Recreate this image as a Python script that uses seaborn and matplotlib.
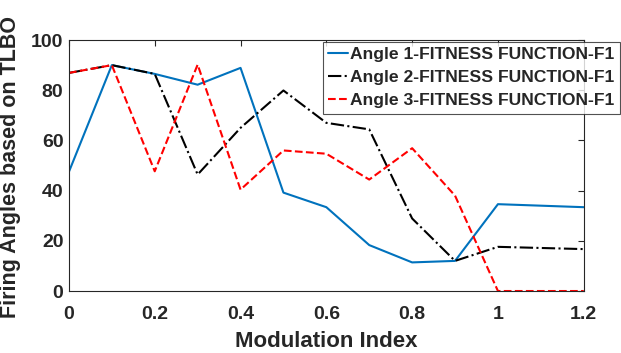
import numpy as np
import pandas as pd
import matplotlib
matplotlib.use("Agg")
import matplotlib.pyplot as plt
import seaborn as sns

mod_index = [0.0, 0.1, 0.2, 0.3, 0.4, 0.5, 0.6, 0.7, 0.8, 0.9, 1.0, 1.2]
angle1 = [47.5, 90.0, 86.5, 82.2, 88.9, 39.2, 33.4, 18.3, 11.4, 12.0, 34.6, 33.4]
angle2 = [86.9, 90.0, 86.5, 46.4, 65.0, 79.9, 67.0, 64.4, 28.9, 12.0, 17.6, 16.7]
angle3 = [86.9, 90.0, 47.7, 90.2, 40.4, 56.0, 54.7, 44.4, 56.9, 38.0, 0.0, 0.0]
labels = ["Angle 1-FITNESS FUNCTION-F1", "Angle 2-FITNESS FUNCTION-F1",
          "Angle 3-FITNESS FUNCTION-F1"]
xticks = [0, 0.2, 0.4, 0.6, 0.8, 1, 1.2]
xticklabels = ["0", "0.2", "0.4", "0.6", "0.8", "1", "1.2"]
yticks = [0, 20, 40, 60, 80, 100]

df = pd.DataFrame({
    "x": mod_index * 3,
    "y": angle1 + angle2 + angle3,
    "series": [labels[0]] * len(mod_index) + [labels[1]] * len(mod_index) + [labels[2]] * len(mod_index),
})

sns.set_style("white")
plt.rcParams['font.family'] = ['Liberation Sans', 'DejaVu Sans']
plt.rcParams['font.weight'] = 'bold'

fig = plt.figure(figsize=(6.21, 3.53), dpi=100)
ax = fig.add_axes([0.111, 0.1756, 0.829, 0.711])

palette = {labels[0]: "#0072BD", labels[1]: "black", labels[2]: "#FF0000"}
sns.lineplot(data=df, x="x", y="y", hue="series", palette=palette, ax=ax,
             linewidth=1.5, legend=False, sort=False, estimator=None)
styles = ["-", "-.", "--"]
for line, ls in zip(ax.get_lines(), styles):
    line.set_linestyle(ls)

ax.set_xlim(0, 1.2)
ax.set_ylim(0, 100)
ax.set_xticks(xticks)
ax.set_xticklabels(xticklabels)
ax.set_yticks(yticks)
ax.tick_params(direction="in", top=True, right=True, length=4, width=0.8,
               labelsize=14, colors="#262626")
ax.tick_params(axis="x", pad=11)
ax.tick_params(axis="y", pad=4)
for lab in ax.get_xticklabels() + ax.get_yticklabels():
    lab.set_fontweight("bold")
for sp in ax.spines.values():
    sp.set_color("#262626")
    sp.set_linewidth(0.8)
ax.set_xlabel("Modulation Index", fontsize=16, fontweight="bold", color="#262626")
ax.set_ylabel("Firing Angles based on TLBO", fontsize=15.5, fontweight="bold", color="#262626")
ax.xaxis.set_label_coords(0.5, -0.16)
ax.yaxis.set_label_coords(-0.093, 0.495)

handles = ax.get_lines()
leg = fig.legend(handles, labels, loc="upper right", bbox_to_anchor=(0.998, 0.882),
                 fontsize=12.6, frameon=True, fancybox=False, handlelength=1.1,
                 handletextpad=0.15, borderpad=0.3, labelspacing=0.45, borderaxespad=0)
leg.get_frame().set_edgecolor("#262626")
leg.get_frame().set_linewidth(0.8)
for t in leg.get_texts():
    t.set_fontweight("bold")
    t.set_color("#262626")

fig.savefig("out.png", dpi=100)
